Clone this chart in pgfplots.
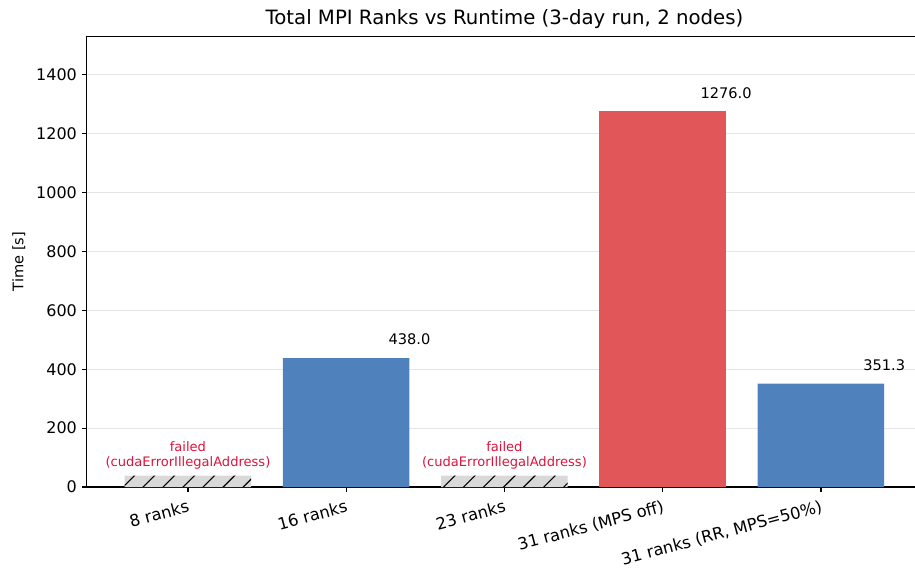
\documentclass[border=0pt]{standalone}
\usepackage{pgfplots}
\pgfplotsset{compat=1.18}
\usepackage{fontspec}
\setmainfont{DejaVu Sans}
\usetikzlibrary{patterns.meta}
\definecolor{barblue}{RGB}{79,129,189}
\definecolor{barred}{RGB}{225,87,89}
\definecolor{failgray}{RGB}{217,217,217}
\definecolor{failtext}{RGB}{220,20,60}
\begin{document}
\begin{tikzpicture}
\useasboundingbox (-62.4pt,-59.76pt) rectangle (596.4pt,350.64pt);
\begin{axis}[
  at={(0,0)}, anchor=south west,
  scale only axis,
  width=601.6pt, height=324.7pt,
  xmin=-0.64, xmax=4.64,
  ymin=0, ymax=1531.2,
  axis x line*=bottom, axis y line*=left,
  axis line style={black, line width=0.8pt},
  tick align=outside,
  major tick length=3.5pt,
  tick style={black, line width=0.8pt},
  xtick={0,1,2,3,4},
  xticklabels={8 ranks,16 ranks,23 ranks,31 ranks (MPS off),{31 ranks (RR, MPS=50\%)}},
  xticklabel style={rotate=15, anchor=north east, font=\fontsize{11.8}{13}\selectfont, inner sep=2pt, yshift=-3pt},
  ytick={0,200,400,600,800,1000,1200,1400},
  yticklabel style={font=\fontsize{11.5}{13}\selectfont},
  /pgf/number format/assume math mode=true,
  /pgf/number format/1000 sep={},
  ymajorgrids,
  major grid style={gray!20, line width=0.8pt},
  ylabel={Time [s]},
  ylabel style={font=\fontsize{10.5}{12}\selectfont, yshift=1pt},
  title={Total MPI Ranks vs Runtime (3-day run, 2 nodes)},
  title style={font=\fontsize{14.2}{16}\selectfont, yshift=-4.5pt},
  ybar, bar width=0.8, bar shift=0pt,
]
\addplot[fill=failgray, draw=none, postaction={pattern={Lines[angle=45,distance=10.2pt,line width=0.8pt]}, pattern color=black}]
  coordinates {(0,38.3) (2,38.3)};
\addplot[fill=barblue, draw=none,
  nodes near coords={\pgfmathprintnumber[fixed,fixed zerofill,precision=1]{\pgfplotspointmeta}},
  nodes near coords style={xshift=45.6pt, anchor=south, yshift=5.8pt, font=\fontsize{10.5}{12}\selectfont, text=black}]
  coordinates {(1,438.0) (4,351.3)};
\addplot[fill=barred, draw=none,
  nodes near coords={\pgfmathprintnumber[fixed,fixed zerofill,precision=1]{\pgfplotspointmeta}},
  nodes near coords style={xshift=45.6pt, anchor=south, yshift=5.8pt, font=\fontsize{10.5}{12}\selectfont, text=black}]
  coordinates {(3,1276.0)};
\node[align=center, anchor=south, text=failtext, font=\fontsize{9.4}{10.8}\selectfont, yshift=1.5pt] at (axis cs:0,38.3) {failed\\(cudaErrorIllegalAddress)};
\node[align=center, anchor=south, text=failtext, font=\fontsize{9.4}{10.8}\selectfont, yshift=1.5pt] at (axis cs:2,38.3) {failed\\(cudaErrorIllegalAddress)};
\draw[black, line width=0.8pt] (rel axis cs:0,1) -- (rel axis cs:1,1);
\end{axis}
\end{tikzpicture}
\end{document}
